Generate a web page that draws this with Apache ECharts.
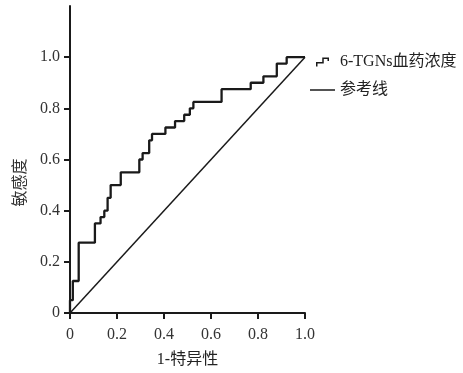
<!DOCTYPE html>
<html><head><meta charset="utf-8">
<script src="https://cdn.jsdelivr.net/npm/echarts@6/dist/echarts.min.js"></script>
<style>html,body{margin:0;padding:0;background:#fff}#c{width:463px;height:373px}</style>
</head><body><div id="c"></div>
<script>
const seriesNames = ['6-TGNs血药浓度', '参考线'];
const fpr = [0, 0, 0.012, 0.037, 0.106, 0.13, 0.146, 0.16, 0.173, 0.216, 0.295, 0.309, 0.337, 0.349, 0.406, 0.447, 0.486, 0.51, 0.525, 0.645, 0.769, 0.823, 0.88, 0.922, 1.0];
const tpr = [0, 0.05, 0.125, 0.275, 0.35, 0.375, 0.4, 0.45, 0.5, 0.55, 0.6, 0.625, 0.675, 0.7, 0.725, 0.75, 0.775, 0.8, 0.825, 0.875, 0.9, 0.925, 0.975, 1.0, 1.0];
const refX = [0, 1];
const refY = [0, 1];
const xTicks = [0, 0.2, 0.4, 0.6, 0.8, 1.0];
const yTicks = [0, 0.2, 0.4, 0.6, 0.8, 1.0];
const xName = '1-特异性';
const yName = '敏感度';

const FONT = "'Liberation Serif', 'Times New Roman', 'Noto Sans CJK SC', serif";
const INK = '#1a1a1a';
const fmt = v => (Math.abs(v) < 1e-9 ? '0' : v.toFixed(1));

const chart = echarts.init(document.getElementById('c'), null, {renderer: 'canvas'});
chart.setOption({
  animation: false,
  backgroundColor: '#fff',
  textStyle: {fontFamily: FONT},
  grid: {left: 70, right: 158, top: 6, bottom: 55, containLabel: false},
  legend: {
    orient: 'vertical', left: 305, top: 49, itemGap: 12,
    itemWidth: 25, itemHeight: 9,
    textStyle: {fontFamily: FONT, fontSize: 16, color: '#222'},
    itemStyle: {color: INK, borderWidth: 0},
    data: [
      {name: seriesNames[0], icon: 'path://M0,18 L0,9 L12.5,9 L12.5,0 L26,0 L26,7 L23,7 L23,3 L15.5,3 L15.5,12 L3,12 L3,18 Z'},
      {name: seriesNames[1], icon: 'path://M0,0 L50,0 L50,3 L0,3 Z'}
    ]
  },
  xAxis: {
    type: 'value', min: 0, max: 1,
    name: xName, nameLocation: 'middle', nameGap: 39,
    nameTextStyle: {fontFamily: FONT, fontSize: 16, color: '#222'},
    axisLine: {show: true, lineStyle: {color: INK, width: 2}},
    axisTick: {show: true, customValues: xTicks, length: 6, lineStyle: {color: INK, width: 2}},
    axisLabel: {customValues: xTicks, formatter: fmt, margin: 14, fontFamily: FONT, fontSize: 16, color: '#333'},
    splitLine: {show: false}
  },
  yAxis: {
    type: 'value', min: 0, max: 1.2,
    name: yName, nameLocation: 'middle', nameRotate: 90, nameGap: 35,
    nameTextStyle: {fontFamily: FONT, fontSize: 16, color: '#333', padding: [0, 46, 0, 0]},
    axisLine: {show: true, lineStyle: {color: INK, width: 2}},
    axisTick: {show: true, customValues: yTicks, length: 6, lineStyle: {color: INK, width: 2}},
    axisLabel: {customValues: yTicks, formatter: fmt, margin: 10, fontFamily: FONT, fontSize: 16, color: '#333'},
    splitLine: {show: false}
  },
  series: [
    {
      name: seriesNames[0], type: 'line', step: 'end', symbol: 'none',
      color: INK,
      lineStyle: {color: INK, width: 2.3},
      data: fpr.map((x, i) => [x, tpr[i]])
    },
    {
      name: seriesNames[1], type: 'line', symbol: 'none',
      color: INK,
      lineStyle: {color: INK, width: 1.5},
      data: refX.map((x, i) => [x, refY[i]])
    }
  ]
});
</script>
</body></html>
